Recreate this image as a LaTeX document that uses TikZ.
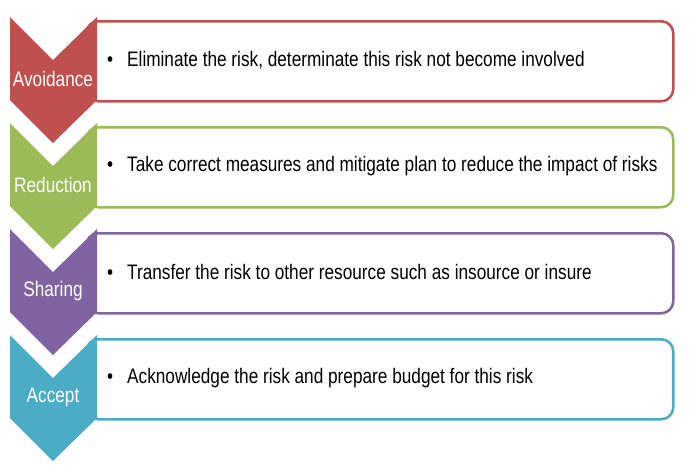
\documentclass[tikz,border=0pt]{standalone}
\usepackage{fontspec}
\setmainfont{Liberation Sans}
\newfontfamily\handfont[FakeStretch=0.82]{Liberation Sans}
\definecolor{avred}{HTML}{C0504D}
\definecolor{rdgreen}{HTML}{9BBB59}
\definecolor{shpurple}{HTML}{8064A2}
\definecolor{acteal}{HTML}{4BACC6}
\tikzset{x=1pt, y=-1pt}

\begin{document}
\begin{tikzpicture}[
  itembox/.style={draw=#1, line width=2.5pt, rounded corners=12pt, fill=white,
    minimum width=587pt, minimum height=80pt, anchor=north west},
  lbl/.style={text=white, font=\handfont\fontsize{21}{21}\selectfont},
  itemtxt/.style={anchor=west, inner sep=0pt, font=\handfont\fontsize{21}{21}\selectfont}]
\useasboundingbox (0,0) rectangle (693,466);
\foreach \n/\c/\name/\txt [count=\i from 0] in % edit here for the rows
  {avoid/avred/Avoidance/{Eliminate the risk, determinate this risk not become involved},
   reduce/rdgreen/Reduction/{Take correct measures and mitigate plan to reduce the impact of risks},
   share/shpurple/Sharing/{Transfer the risk to other resource such as insource or insure},
   accept/acteal/Accept/{Acknowledge the risk and prepare budget for this risk}}
{
\begin{scope}[shift={(0,106*\i)}]
\node[itembox=\c] (box\n) at (85,20) {};
\fill[\c] (10,17) -- (53,60) -- (97,17) -- (97,100) -- (53,143) -- (10,100) -- cycle;
\node[lbl] (\n) at (53,79) {\name};
\node[itemtxt] (txt\n) at (107,60) {\makebox[20pt][l]{\textbullet}\txt};
\end{scope}
}
\end{tikzpicture}
\end{document}
